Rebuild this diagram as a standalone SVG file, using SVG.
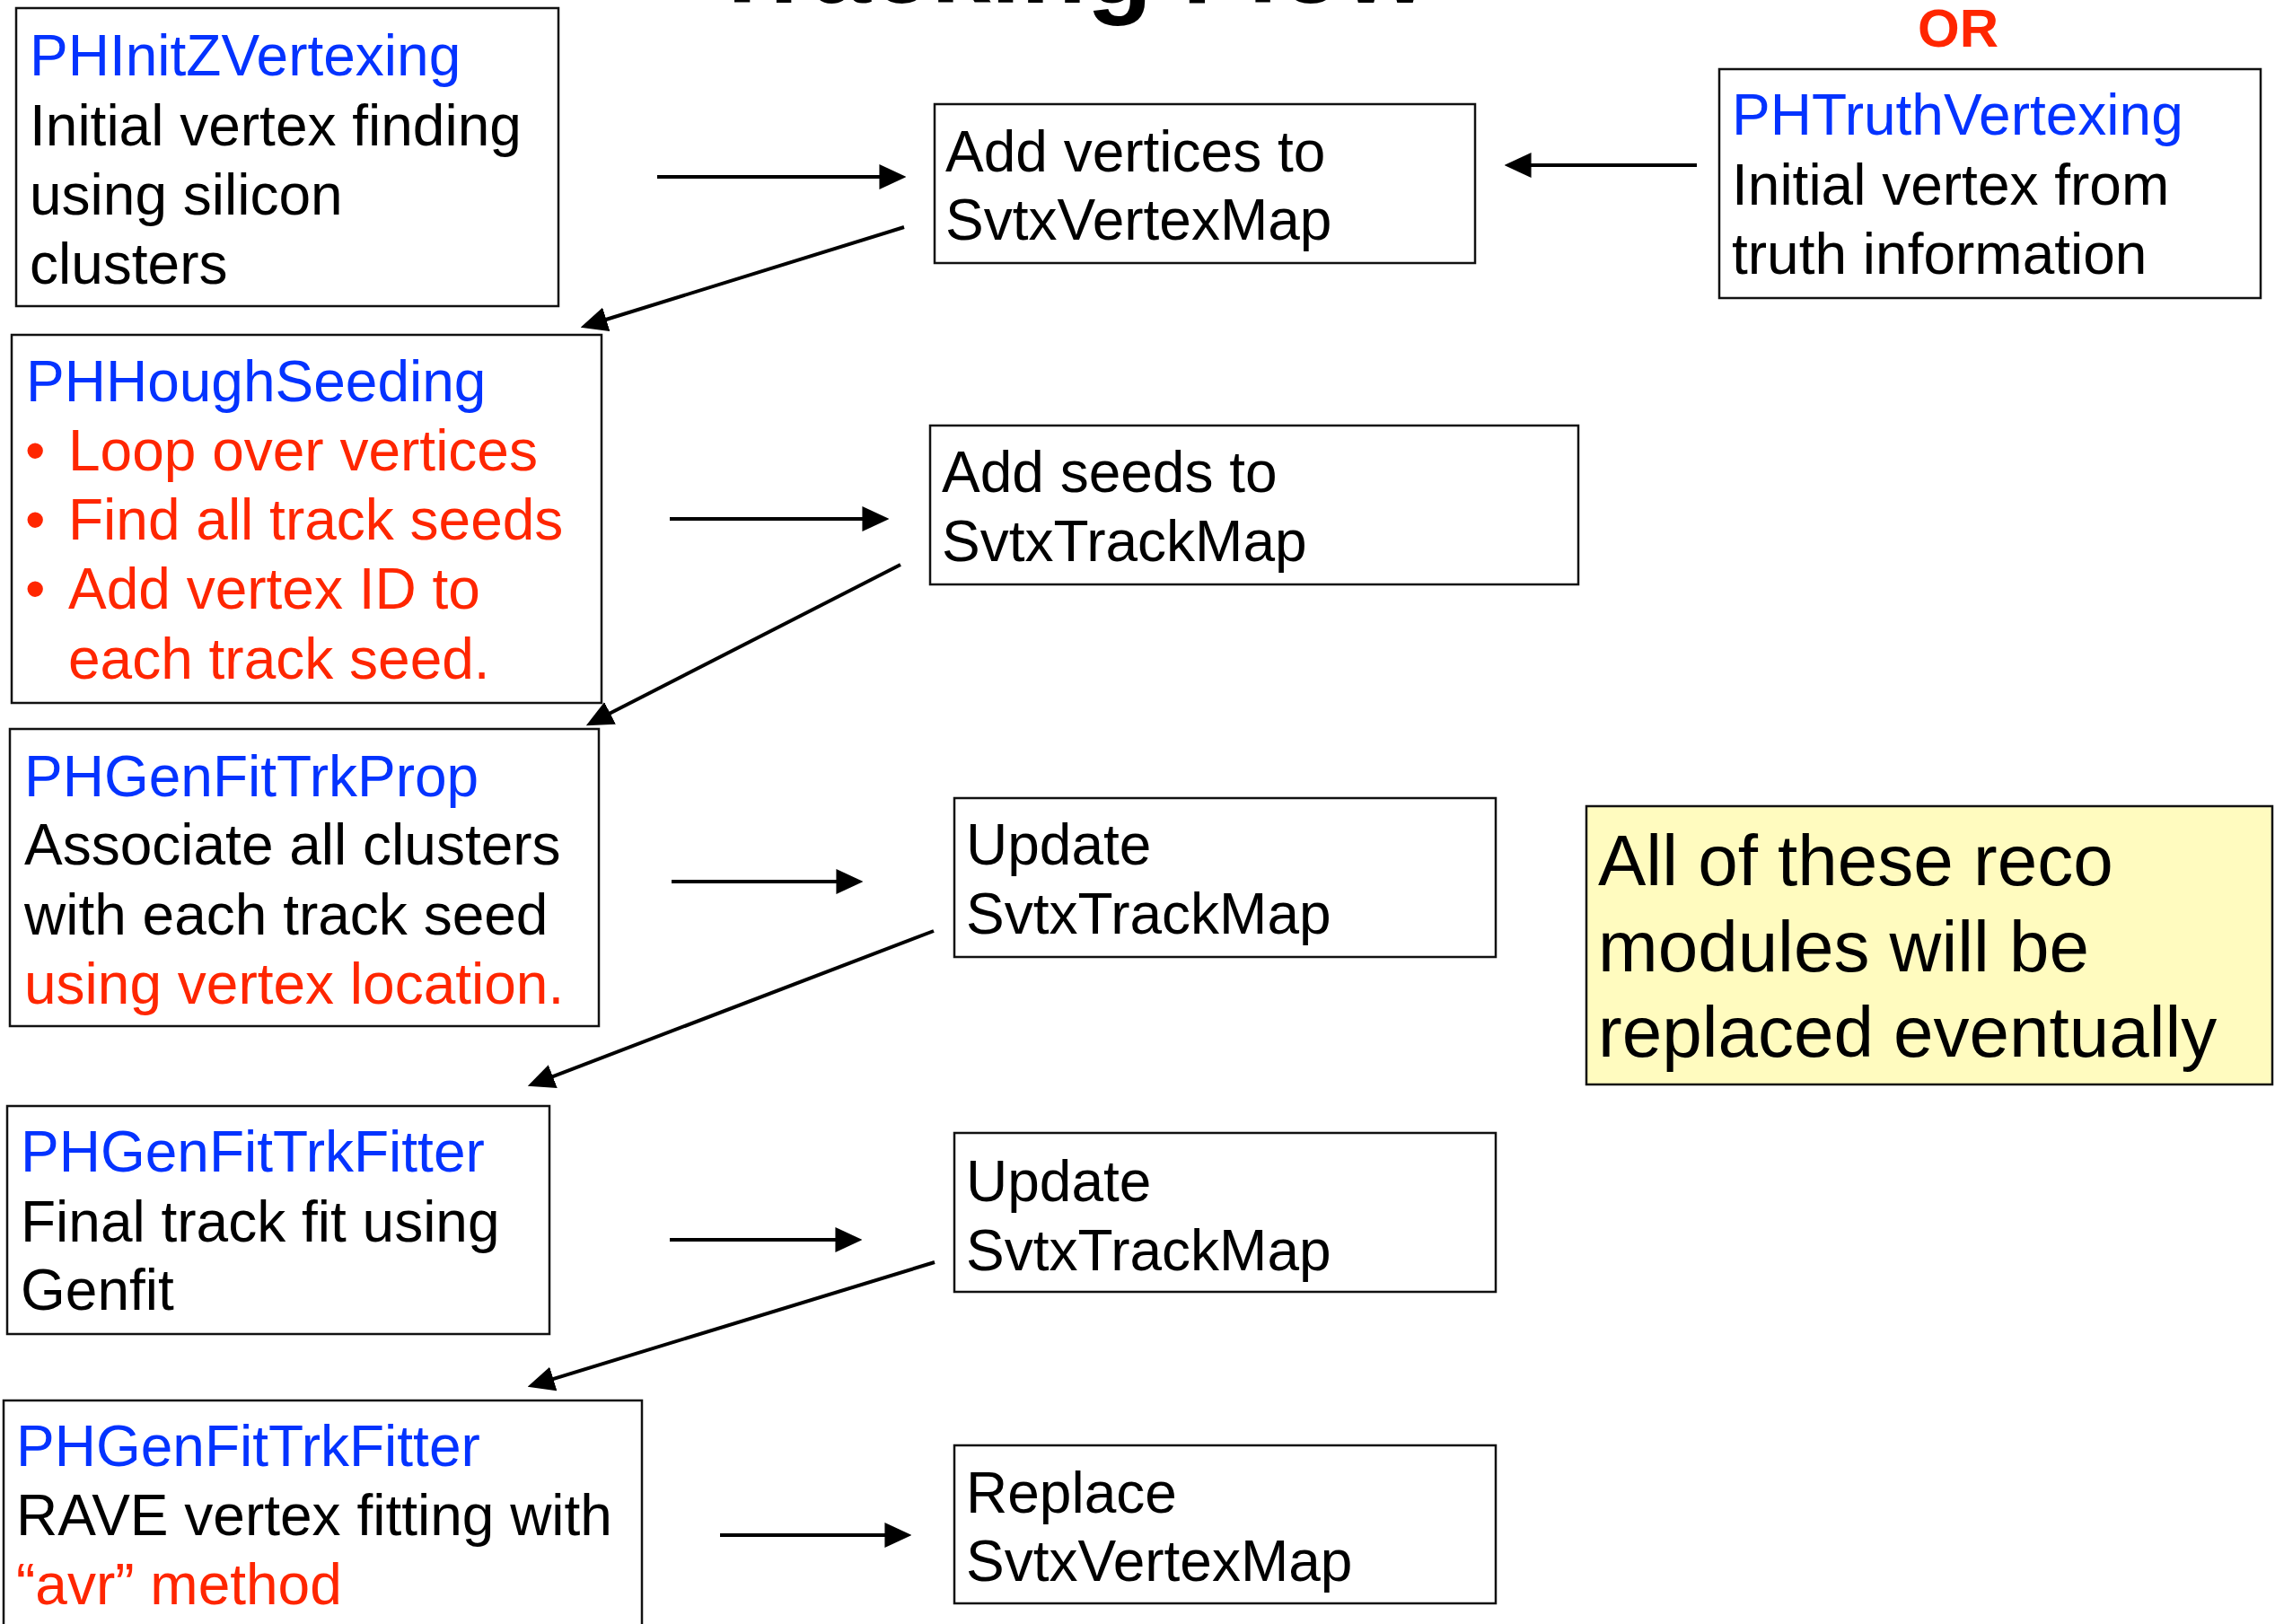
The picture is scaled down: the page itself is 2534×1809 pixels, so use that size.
<svg xmlns="http://www.w3.org/2000/svg" width="2534" height="1809" viewBox="0 0 2534 1809">
<defs>
<style>
.box{fill:#ffffff;stroke:#111111;stroke-width:2.5}
.note{fill:#fffbbf;stroke:#111111;stroke-width:2.5}
.t{font-family:"Liberation Sans",Arial,Helvetica,sans-serif;font-size:64px;fill:#000000}
.blue{fill:#0433ff}
.red{fill:#ff2600}
.big{font-size:80px}
.title{font-family:"Liberation Sans",Arial,Helvetica,sans-serif;font-size:120px;font-weight:bold;fill:#000000}
.or{font-family:"Liberation Sans",Arial,Helvetica,sans-serif;font-size:60px;font-weight:bold;fill:#ff2600}
.arrow{stroke:#000000;stroke-width:4;fill:none;marker-end:url(#ah)}
</style>
<marker id="ah" markerUnits="userSpaceOnUse" markerWidth="30" markerHeight="28" refX="5" refY="12.5" orient="auto" viewBox="0 0 27 25">
<path d="M0,0 L27,12.5 L0,25 Z" fill="#000000"/>
</marker>
</defs>
<rect width="2534" height="1809" fill="#ffffff"/>
<text class="title" x="1190" y="3" text-anchor="middle">Tracking Flow</text>
<text class="or" x="2136" y="52">OR</text>

<g id="phinitzvertexing">
<rect class="box" x="18" y="9" width="604" height="332"/>
<text class="t"><tspan class="blue" x="33" y="84">PHInitZVertexing</tspan><tspan x="33" y="162">Initial vertex finding</tspan><tspan x="33" y="239">using silicon</tspan><tspan x="33" y="316">clusters</tspan></text>
</g>

<g id="svtxvertexmap-add">
<rect class="box" x="1041" y="116" width="602" height="177"/>
<text class="t"><tspan x="1053" y="191">Add vertices to</tspan><tspan x="1053" y="267">SvtxVertexMap</tspan></text>
</g>

<g id="phtruthvertexing">
<rect class="box" x="1915" y="77" width="603" height="255"/>
<text class="t"><tspan class="blue" x="1929" y="150">PHTruthVertexing</tspan><tspan x="1929" y="228">Initial vertex from</tspan><tspan x="1929" y="305">truth information</tspan></text>
</g>

<g id="phhoughseeding">
<rect class="box" x="13" y="373" width="657" height="410"/>
<text class="t"><tspan class="blue" x="29" y="447">PHHoughSeeding</tspan></text>
<text class="t red"><tspan x="28" y="524">•</tspan><tspan x="76" y="524">Loop over vertices</tspan><tspan x="28" y="601">•</tspan><tspan x="76" y="601">Find all track seeds</tspan><tspan x="28" y="678">•</tspan><tspan x="76" y="678">Add vertex ID to</tspan><tspan x="76" y="756">each track seed.</tspan></text>
</g>

<g id="svtxtrackmap-add">
<rect class="box" x="1036" y="474" width="722" height="177"/>
<text class="t"><tspan x="1049" y="548">Add seeds to</tspan><tspan x="1049" y="625">SvtxTrackMap</tspan></text>
</g>

<g id="phgenfittrkprop">
<rect class="box" x="11" y="812" width="656" height="331"/>
<text class="t"><tspan class="blue" x="27" y="887">PHGenFitTrkProp</tspan><tspan x="27" y="963">Associate all clusters</tspan><tspan x="27" y="1041">with each track seed</tspan><tspan class="red" x="27" y="1118">using vertex location.</tspan></text>
</g>

<g id="svtxtrackmap-update1">
<rect class="box" x="1063" y="889" width="603" height="177"/>
<text class="t"><tspan x="1076" y="963">Update</tspan><tspan x="1076" y="1040">SvtxTrackMap</tspan></text>
</g>

<g id="phgenfittrkfitter1">
<rect class="box" x="8" y="1232" width="604" height="254"/>
<text class="t"><tspan class="blue" x="23" y="1305">PHGenFitTrkFitter</tspan><tspan x="23" y="1383">Final track fit using</tspan><tspan x="23" y="1459">Genfit</tspan></text>
</g>

<g id="svtxtrackmap-update2">
<rect class="box" x="1063" y="1262" width="603" height="177"/>
<text class="t"><tspan x="1076" y="1338">Update</tspan><tspan x="1076" y="1415">SvtxTrackMap</tspan></text>
</g>

<g id="phgenfittrkfitter2">
<rect class="box" x="4" y="1560" width="711" height="280"/>
<text class="t"><tspan class="blue" x="18" y="1633">PHGenFitTrkFitter</tspan><tspan x="18" y="1710">RAVE vertex fitting with</tspan><tspan class="red" x="18" y="1787">“avr” method</tspan></text>
</g>

<g id="svtxvertexmap-replace">
<rect class="box" x="1063" y="1610" width="603" height="176"/>
<text class="t"><tspan x="1076" y="1685">Replace</tspan><tspan x="1076" y="1761">SvtxVertexMap</tspan></text>
</g>

<g id="note">
<rect class="note" x="1767" y="898" width="764" height="310"/>
<text class="t big"><tspan x="1780" y="986">All of these reco</tspan><tspan x="1780" y="1082">modules will be</tspan><tspan x="1780" y="1177">replaced eventually</tspan></text>
</g>

<g id="connectors">
<line class="arrow" x1="732" y1="197" x2="985" y2="197"/>
<line class="arrow" x1="1890" y1="184" x2="1700" y2="184"/>
<line class="arrow" x1="1007" y1="253" x2="670" y2="357.5"/>
<line class="arrow" x1="746" y1="578" x2="966" y2="578"/>
<line class="arrow" x1="1003" y1="629" x2="674.6" y2="797"/>
<line class="arrow" x1="748" y1="982" x2="937" y2="982"/>
<line class="arrow" x1="1040" y1="1037" x2="610.6" y2="1201.1"/>
<line class="arrow" x1="746" y1="1381" x2="936" y2="1381"/>
<line class="arrow" x1="1041" y1="1406" x2="611" y2="1537.6"/>
<line class="arrow" x1="802" y1="1710" x2="991" y2="1710"/>
</g>
</svg>
